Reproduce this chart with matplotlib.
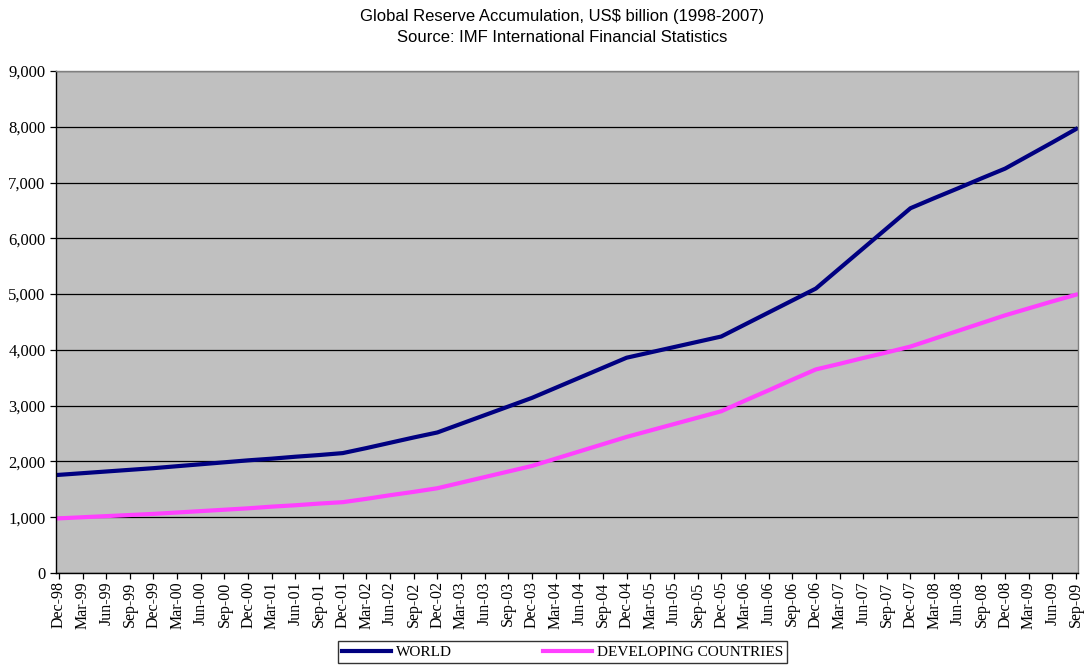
import matplotlib.pyplot as plt
import numpy as np
from matplotlib.ticker import FuncFormatter, MultipleLocator

quarters = [
    "Dec-98", "Mar-99", "Jun-99", "Sep-99", "Dec-99", "Mar-00", "Jun-00", "Sep-00",
    "Dec-00", "Mar-01", "Jun-01", "Sep-01", "Dec-01", "Mar-02", "Jun-02", "Sep-02",
    "Dec-02", "Mar-03", "Jun-03", "Sep-03", "Dec-03", "Mar-04", "Jun-04", "Sep-04",
    "Dec-04", "Mar-05", "Jun-05", "Sep-05", "Dec-05", "Mar-06", "Jun-06", "Sep-06",
    "Dec-06", "Mar-07", "Jun-07", "Sep-07", "Dec-07", "Mar-08", "Jun-08", "Sep-08",
    "Dec-08", "Mar-09", "Jun-09", "Sep-09",
]

world = [
    1760, 1790, 1820, 1850, 1880, 1915, 1950, 1985,
    2020, 2050, 2085, 2115, 2150, 2240, 2335, 2430,
    2520, 2675, 2830, 2985, 3140, 3320, 3500, 3680,
    3860, 3955, 4050, 4145, 4240, 4455, 4670, 4885,
    5100, 5460, 5820, 6180, 6540, 6720, 6895, 7075,
    7250, 7485, 7720, 7960,
]

developing = [
    980, 1000, 1020, 1040, 1060, 1085, 1110, 1135,
    1160, 1190, 1215, 1245, 1270, 1330, 1395, 1455,
    1520, 1620, 1720, 1820, 1920, 2050, 2180, 2310,
    2440, 2555, 2670, 2785, 2900, 3090, 3275, 3465,
    3650, 3750, 3855, 3955, 4060, 4200, 4340, 4480,
    4620, 4745, 4870, 4990,
]

serif = ["Liberation Serif", "DejaVu Serif"]
sans = ["Liberation Sans", "DejaVu Sans"]

fig = plt.figure(figsize=(10.86, 6.66), dpi=100)
ax = fig.add_axes([0.0516, 0.1396, 0.9410, 0.7538])
ax.set_facecolor("#C0C0C0")

x = np.arange(len(quarters))
ax.plot(x, world, color="#000080", lw=3.0, label="WORLD")
ax.plot(x, developing, color="#FF40FF", lw=3.0, label="DEVELOPING COUNTRIES")

ax.set_ylim(0, 9000)
ax.set_xlim(-0.12, len(quarters) - 1 + 0.08)
ax.yaxis.set_major_locator(MultipleLocator(1000))
ax.yaxis.set_major_formatter(FuncFormatter(lambda v, _: f"{int(v):,}"))
ax.grid(axis="y", color="black", lw=0.9)
ax.set_axisbelow(True)

ax.set_xticks(x)
ax.set_xticklabels(quarters, rotation=90, family=serif, fontsize=11.5)
for lab in ax.get_yticklabels():
    lab.set_family(serif)
    lab.set_fontsize(12)
ax.tick_params(axis="both", direction="out", length=4, width=0.9, color="black")
ax.tick_params(axis="x", pad=2)

for side in ["top", "right"]:
    ax.spines[side].set_color("#808080")
for side in ["left", "bottom"]:
    ax.spines[side].set_color("black")
for sp in ax.spines.values():
    sp.set_linewidth(1.0)

fig.text(0.518, 0.975, "Global Reserve Accumulation, US$ billion (1998-2007)",
         ha="center", va="center", family=sans, fontsize=12)
fig.text(0.518, 0.943, "Source: IMF International Financial Statistics",
         ha="center", va="center", family=sans, fontsize=12)

leg = fig.legend(loc="center", bbox_to_anchor=(0.518, 0.021), ncol=2,
                 prop={"family": serif, "size": 11}, frameon=True, fancybox=False,
                 edgecolor="black", handlelength=3.2, columnspacing=6,
                 borderpad=0.25, handletextpad=0.3)
leg.get_frame().set_linewidth(1.0)

fig.savefig("out.png", dpi=100)
plt.close(fig)
